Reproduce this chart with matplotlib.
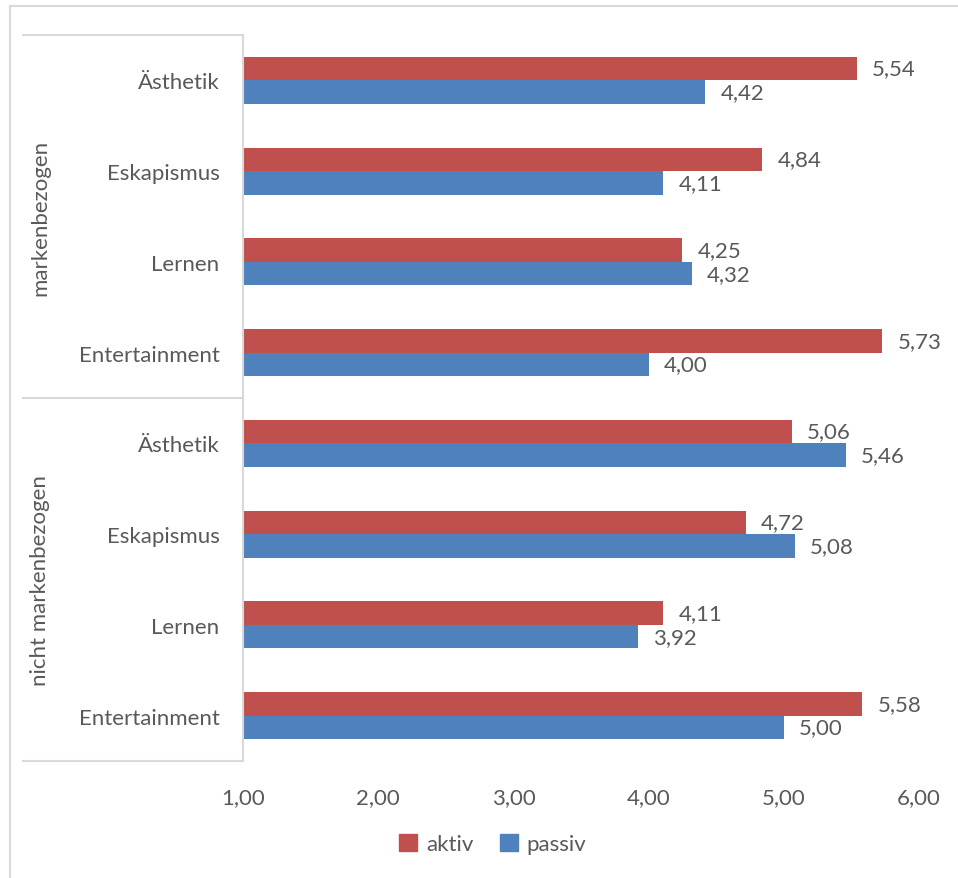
import numpy as np
import matplotlib.pyplot as plt
from matplotlib.lines import Line2D
from matplotlib.patches import Patch
import matplotlib.transforms as mtransforms

plt.rcParams['font.family'] = ['Lato', 'DejaVu Sans']

# Data (top to bottom)
groups = ['markenbezogen', 'nicht markenbezogen']
categories = ['Ästhetik', 'Eskapismus', 'Lernen', 'Entertainment',
              'Ästhetik', 'Eskapismus', 'Lernen', 'Entertainment']
aktiv = [5.54, 4.84, 4.25, 5.73, 5.06, 4.72, 4.11, 5.58]
passiv = [4.42, 4.11, 4.32, 4.00, 5.46, 5.08, 3.92, 5.00]
x_ticks = [1, 2, 3, 4, 5, 6]

red = '#C0504D'
blue = '#4F81BD'
txt = '#595959'
line_c = '#D9D9D9'

fig = plt.figure(figsize=(9.58, 8.79), dpi=100)
ax_left, ax_right = 243, 919
ax = fig.add_axes([ax_left / 958, 1 - 762 / 879, (ax_right - ax_left) / 958, 726 / 879])

y = np.arange(len(categories))
h = 0.26
ax.barh(y - h / 2, [a - 1 for a in aktiv], left=1, height=h, color=red)
ax.barh(y + h / 2, [p - 1 for p in passiv], left=1, height=h, color=blue)

def fmt(v):
    return f"{v:.2f}".replace('.', ',')

for yi, a, p in zip(y, aktiv, passiv):
    ax.annotate(fmt(a), (a, yi - h / 2), xytext=(11, 0), textcoords='offset points',
                va='center', ha='left', fontsize=16, color=txt)
    ax.annotate(fmt(p), (p, yi + h / 2), xytext=(11, 0), textcoords='offset points',
                va='center', ha='left', fontsize=16, color=txt)

ax.set_xlim(1, 6)
ax.set_ylim(len(categories) - 0.5, -0.5)
ax.set_xticks(x_ticks)
ax.set_xticklabels([fmt(v) for v in x_ticks])
ax.set_yticks(y)
ax.set_yticklabels(categories)
ax.tick_params(axis='x', length=0, pad=19, labelsize=16, labelcolor=txt)
ax.tick_params(axis='y', length=0, pad=17, labelsize=16, labelcolor=txt)

for s in ['top', 'right', 'bottom']:
    ax.spines[s].set_visible(False)
ax.spines['left'].set_color(line_c)
ax.spines['left'].set_linewidth(1.5)

# group boundary lines and labels
trans = mtransforms.blended_transform_factory(ax.transAxes, ax.transData)
aw = ax_right - ax_left
x0 = (23 - ax_left) / aw
for yb in [-0.5, 3.5, 7.5]:
    ax.add_line(Line2D([x0, 0], [yb, yb], transform=trans, color=line_c,
                       lw=1.5, clip_on=False))
for gi, g in enumerate(groups):
    ax.text((40 - ax_left) / aw, gi * 4 + 1.5, g, transform=trans, rotation=90,
            ha='center', va='center', fontsize=16, color=txt)

# chart border (left and top visible)
fig.add_artist(Line2D([10 / 958, 10 / 958], [0, 1 - 7 / 879], color=line_c, lw=1.5))
fig.add_artist(Line2D([10 / 958, 1], [1 - 7 / 879, 1 - 7 / 879], color=line_c, lw=1.5))

handles = [Patch(color=red, label='aktiv'), Patch(color=blue, label='passiv')]
fig.legend(handles=handles, loc='center', bbox_to_anchor=(493 / 958, 1 - 845 / 879),
           ncol=2, frameon=False, fontsize=16, labelcolor=txt,
           handlelength=0.8, handleheight=0.8, handletextpad=0.4, columnspacing=1.2)

fig.savefig('out.png', dpi=100)
